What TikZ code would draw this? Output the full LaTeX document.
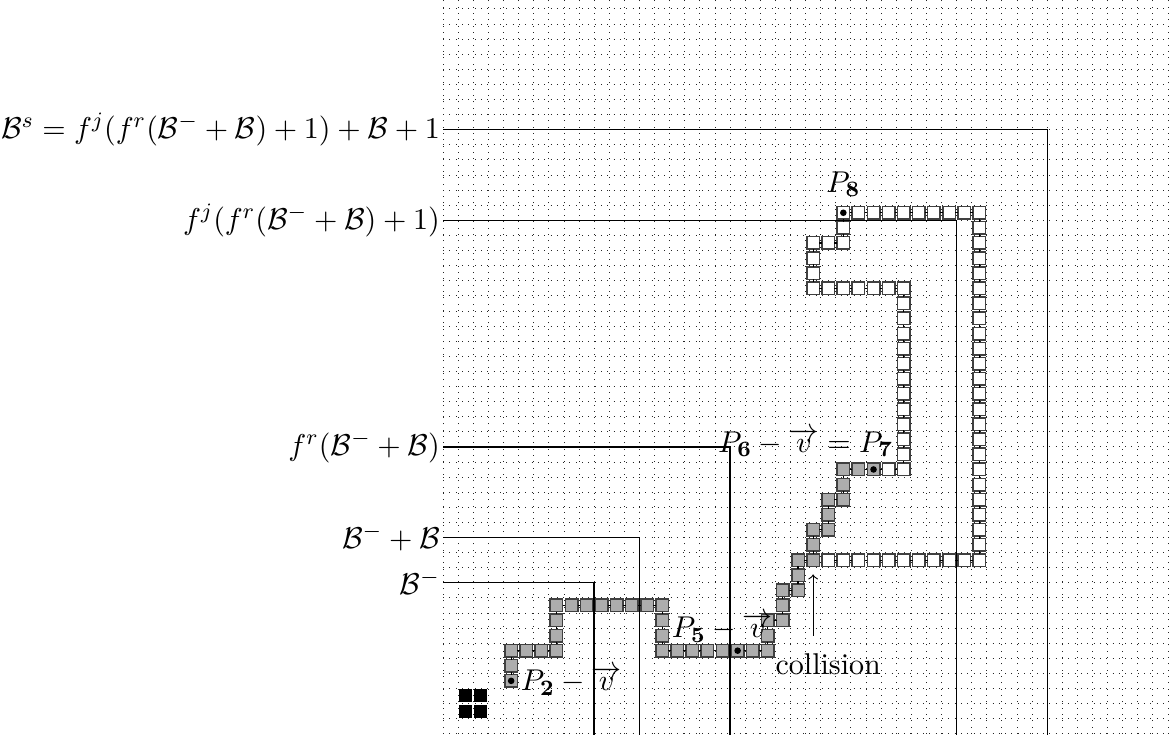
\documentclass[tikz,border=0pt]{standalone}
\usepackage{amsmath,amssymb}
\tikzset{
 asm grid/.style={dotted,black!85,line width=.3pt,step=5.5pt},
 asm tile/.style={rectangle,draw=black!75,line width=.55pt,minimum size=4.55pt,
                  inner sep=0pt,outer sep=0pt},
 asm old/.style={asm tile,fill=black!32},
 asm new/.style={asm tile,fill=white},
 asm seed/.style={rectangle,fill=black,minimum size=4.75pt,inner sep=0pt},
 asm bond/.style={line width=.4pt},
 asm bound/.style={line width=.5pt},
 asm value/.style={anchor=east,inner sep=1pt},
 asm pos/.style={inner sep=3.33pt}
}

\begin{document}
\begin{tikzpicture}[x=5.5pt,y=5.5pt,every node/.style={font=\fontsize{10.95}{13}\selectfont}]
 \useasboundingbox (-30.85,-1.52) rectangle (46.70,47.09);
 \draw[asm grid,shift={(.5,.5)}] (-2,-2) grid (46,47);

 % seed
 \foreach \x/\y [count=\i] in {0/0,1/0,0/1,1/1}
   \node[asm seed] (s\i) at (\x,\y) {};

 % first assembly (grey)
 \foreach \x/\y [count=\i] in {3/2,3/3,3/4,4/4,5/4,6/4,6/5,6/6,6/7,7/7,8/7,9/7,
   10/7,11/7,12/7,13/7,13/6,13/5,13/4,14/4,15/4,16/4,17/4,18/4,19/4,20/4,20/5,
   20/6,21/6,21/7,21/8,22/8,22/9,22/10,23/10,23/11,23/12,24/12,24/13,24/14,
   25/14,25/15,25/16,26/16,27/16}{
   \node[asm old] (g\i) at (\x,\y) {};
   \ifnum\i>1 \pgfmathtruncatemacro\j{\i-1}\draw[asm bond] (g\j) -- (g\i);\fi
 }

 % second assembly (white)
 \foreach \x/\y [count=\i] in {28/16,29/16,29/17,29/18,29/19,29/20,29/21,29/22,
   29/23,29/24,29/25,29/26,29/27,29/28,28/28,27/28,26/28,25/28,24/28,23/28,
   23/29,23/30,23/31,24/31,25/31,25/32,25/33,26/33,27/33,28/33,29/33,30/33,
   31/33,32/33,33/33,34/33,34/32,34/31,34/30,34/29,34/28,34/27,34/26,34/25,
   34/24,34/23,34/22,34/21,34/20,34/19,34/18,34/17,34/16,34/15,34/14,34/13,
   34/12,34/11,34/10,33/10,32/10,31/10,30/10,29/10,28/10,27/10,26/10,25/10,
   24/10}{
   \node[asm new] (w\i) at (\x,\y) {};
   \ifnum\i>1 \pgfmathtruncatemacro\j{\i-1}\draw[asm bond] (w\j) -- (w\i);\fi
 }
 \draw[asm bond] (g45) -- (w1);

 \foreach \t in {g1,g24,g45,w27} \fill (\t) circle (1.2pt);

 % bounds
 \node[asm value] (bs) at (-1.5,38.5)
   {$\mathcal{B}^s = f^j(f^r(\mathcal{B}^- + \mathcal{B}) + 1) + \mathcal{B} + 1$};
 \node[asm value] (fj) at (-1.5,32.5)
   {$f^j(f^r(\mathcal{B}^- + \mathcal{B}) + 1)$};
 \node[asm value] (fr) at (-1.5,17.5) {$f^r(\mathcal{B}^- + \mathcal{B})$};
 \node[asm value] (bmb) at (-1.5,11.5) {$\mathcal{B}^- + \mathcal{B}$};
 \node[asm value] (bm) at (-1.5,8.5) {$\mathcal{B}^-$};
 \foreach \n/\v in {bs/38.5,fj/32.5,fr/17.5,bmb/11.5,bm/8.5}{
   \coordinate (\n corner) at (\v,\v);
   \coordinate (\n foot) at (\v,-1.6);
   \draw[asm bound] (\n.east) -- (\n corner) -- (\n foot);
 }

 % positions
 \node[asm pos,right] (p2) at (g1) {$P_{\mathbf{2}} - \overrightarrow{v}$};
 \node[asm pos,right] (p5) at (13,5.5) {$P_{\mathbf{5}} - \overrightarrow{v}$};
 \node[asm pos] (p6) at (22.5,17.8)
   {$P_{\mathbf{6}} - \overrightarrow{v} = P_{\mathbf{7}}$};
 \node[asm pos,above] (p8) at (w27.north) {$P_{\mathbf{8}}$};

 \node (coll) at (24,3.1) {collision};
 \coordinate (coll from) at (23,5);
 \coordinate (coll to) at (23,9.05);
 \draw[->,asm bond] (coll from) -- (coll to);
\end{tikzpicture}
\end{document}
